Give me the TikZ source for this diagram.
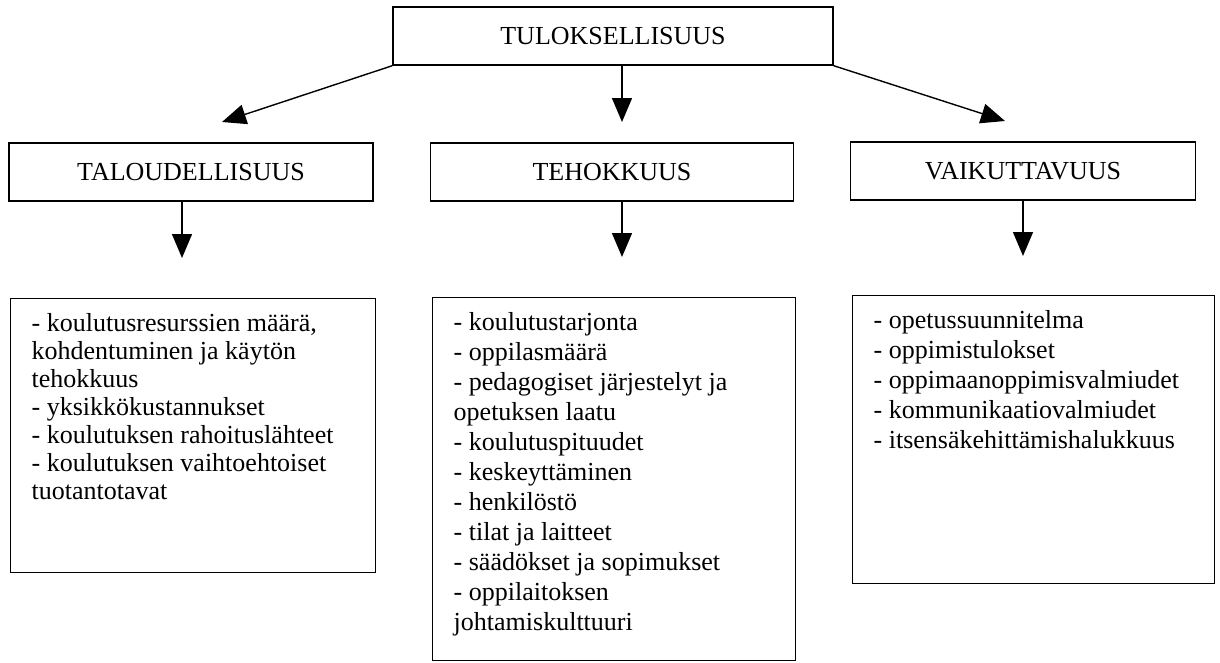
\documentclass[tikz,border=0pt]{standalone}
\usepackage{fontspec}
\setmainfont{Liberation Serif}
\usetikzlibrary{arrows.meta}

\newcommand{\lista}[3]{\parbox[t][#1][t]{#2}{\raggedright #3}}

\begin{document}
\begin{tikzpicture}[
    x=1pt, y=-1pt,
    otsikko/.style={
        draw,
        rectangle,
        line width=1.4pt,
        minimum height=58pt,
        inner sep=0pt,
        font=\fontsize{26}{30}\selectfont
    },
    lista/.style={
        draw,
        rectangle,
        line width=1.4pt,
        anchor=north west,
        inner xsep=21pt,
        inner ysep=15pt,
        font=\fontsize{26}{30}\selectfont
    },
    nuoli/.style={
        -{Triangle[length=24pt,width=20pt]},
        line width=1.4pt
    }
]

\useasboundingbox (0,0) rectangle (1220,662);

\node[otsikko, minimum width=440pt] (tulos) at (613,36) {TULOKSELLISUUS};

\node[otsikko, minimum width=364pt] (talous) at (191,172) {TALOUDELLISUUS};
\node[otsikko, minimum width=363pt] (teho) at (612,172) {TEHOKKUUS};
\node[otsikko, minimum width=345pt] (vaikutus) at (1023,171) {VAIKUTTAVUUS};

\node[lista, font=\fontsize{26}{28}\selectfont] (talouslista) at (10,298) {\lista{244pt}{323pt}{%
- koulutusresurssien määrä,\\
kohdentuminen ja käytön\\
tehokkuus\\
- yksikkökustannukset\\
- koulutuksen rahoituslähteet\\
- koulutuksen vaihtoehtoiset\\
tuotantotavat}};

\node[lista] (teholista) at (432,297) {\lista{333pt}{321pt}{%
- koulutustarjonta\\
- oppilasmäärä\\
- pedagogiset järjestelyt ja\\
opetuksen laatu\\
- koulutuspituudet\\
- keskeyttäminen\\
- henkilöstö\\
- tilat ja laitteet\\
- säädökset ja sopimukset\\
- oppilaitoksen\\
johtamiskulttuuri}};

\node[lista] (vaikutuslista) at (852,295) {\lista{258pt}{320pt}{%
- opetussuunnitelma\\
- oppimistulokset\\
- oppimaanoppimisvalmiudet\\
- kommunikaatiovalmiudet\\
- itsensäkehittämishalukkuus}};

% nuolten kärjet
\coordinate (k1) at (222,122);
\coordinate (k2) at (622,122);
\coordinate (k3) at (1005,121);
\coordinate (k4) at (182,258);
\coordinate (k5) at (622,257);
\coordinate (k6) at (1023,256);

\draw[nuoli] (tulos.south west) -- (k1);
\draw[nuoli] (tulos.south -| k2) -- (k2);
\draw[nuoli] (tulos.south east) -- (k3);

\draw[nuoli] (talous.south -| k4) -- (k4);
\draw[nuoli] (teho.south -| k5) -- (k5);
\draw[nuoli] (vaikutus.south -| k6) -- (k6);

\end{tikzpicture}
\end{document}
